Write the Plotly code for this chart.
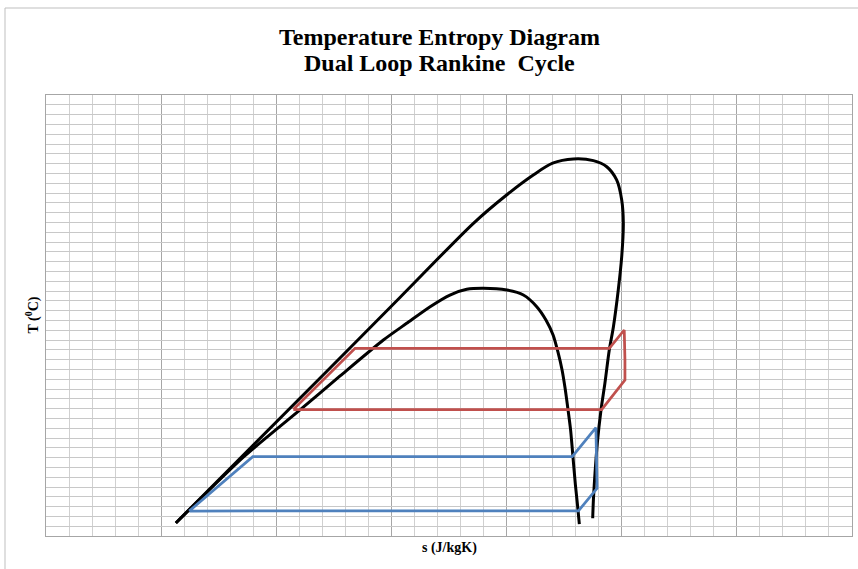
import plotly.graph_objects as go

# ---- data (entropy s in J/kgK, temperature T in degC) ----
outer_s = [564, 1212, 1537, 1856, 2000, 2116, 2200, 2290, 2377, 2435, 2478,
           2500, 2507, 2500, 2485, 2464, 2446, 2427, 2410, 2394, 2384, 2377, 2374]
outer_T = [13.3, 166.3, 243.4, 319.1, 348.0, 368.4, 380.4, 384.7, 383.0, 376.8, 363.3,
           342.9, 319.1, 285.0, 251.0, 213.6, 189.8, 155.8, 128.6, 94.6, 64.0, 36.7, 18.1]

inner_s = [564, 858, 1103, 1277, 1465, 1566, 1668, 1754, 1827, 1899, 2001, 2073, 2131,
           2171, 2202, 2223, 2241, 2254, 2267, 2278, 2288, 2299, 2308, 2316]
inner_T = [13.3, 80.6, 128.6, 163.3, 200.0, 217.0, 234.0, 245.9, 251.7, 252.8, 251.0, 245.9, 234.0,
           220.4, 205.1, 187.8, 169.4, 151.0, 128.6, 108.2, 81.6, 52.0, 31.6, 12.2]

red_s = [1074, 1342, 2446, 2511, 2514, 2514, 2413, 1074]
red_T = [129.0, 191.5, 191.5, 210.2, 179.6, 159.2, 129.0, 129.0]

blue_s = [622, 898, 2285, 2388, 2393, 2312, 622]
blue_T = [25.5, 80.9, 80.9, 110.5, 48.7, 25.6, 25.5]

title_lines = ["Temperature Entropy Diagram", "Dual Loop Rankine  Cycle"]
x_title = "s (J/kgK)"
y_title = "T (<sup>0</sup>C)"

fig = go.Figure()
fig.add_trace(go.Scatter(x=outer_s, y=outer_T, mode="lines",
                         line=dict(color="black", width=3, shape="spline", smoothing=0.8)))
fig.add_trace(go.Scatter(x=inner_s, y=inner_T, mode="lines",
                         line=dict(color="black", width=3, shape="spline", smoothing=0.7)))
fig.add_trace(go.Scatter(x=red_s, y=red_T, mode="lines",
                         line=dict(color="#C0504D", width=2.75)))
fig.add_trace(go.Scatter(x=blue_s, y=blue_T, mode="lines",
                         line=dict(color="#4F81BD", width=2.75)))

serif = "Liberation Serif, Times New Roman, serif"

fig.update_layout(
    width=858, height=569,
    margin=dict(l=46, r=6, t=95, b=33),
    paper_bgcolor="white", plot_bgcolor="white",
    showlegend=False,
    xaxis=dict(range=[0, 3500], dtick=500, showticklabels=False, ticks="",
               showgrid=True, gridcolor="#a6a6a6", gridwidth=1,
               minor=dict(dtick=100, showgrid=True, gridcolor="#d0d0d0", gridwidth=1),
               showline=True, linecolor="#a6a6a6", linewidth=1, mirror=True, zeroline=False),
    yaxis=dict(range=[0, 450], dtick=10, showticklabels=False, ticks="",
               showgrid=True, gridcolor="#c8c8c8", gridwidth=1,
               showline=True, linecolor="#a6a6a6", linewidth=1, mirror=True, zeroline=False),
)

# outer chart-area border
fig.add_shape(type="rect", xref="paper", yref="paper",
              x0=(5 - 46) / 806, x1=(875 - 46) / 806,
              y0=(536 - 590) / 441, y1=(536 - 8) / 441,
              line=dict(color="#bfbfbf", width=1), fillcolor="rgba(0,0,0,0)", layer="below")

# title lines
for txt, py in zip(title_lines, [37.0, 63.0]):
    fig.add_annotation(text="<b>" + txt + "</b>", xref="paper", yref="paper",
                       x=(439 - 46) / 806, y=(536 - py) / 441,
                       xanchor="center", yanchor="middle", showarrow=False,
                       font=dict(family=serif, size=24, color="black"))

fig.add_annotation(text="<b>" + x_title + "</b>", xref="paper", yref="paper",
                   x=(450 - 46) / 806, y=(536 - 548) / 441,
                   xanchor="center", yanchor="middle", showarrow=False,
                   font=dict(family=serif, size=14, color="black"))
fig.add_annotation(text="<b>" + y_title + "</b>", xref="paper", yref="paper",
                   x=(33 - 46) / 806, y=(536 - 315.5) / 441, textangle=-90,
                   xanchor="center", yanchor="middle", showarrow=False,
                   font=dict(family=serif, size=14, color="black"))

fig.write_html("out.html")
